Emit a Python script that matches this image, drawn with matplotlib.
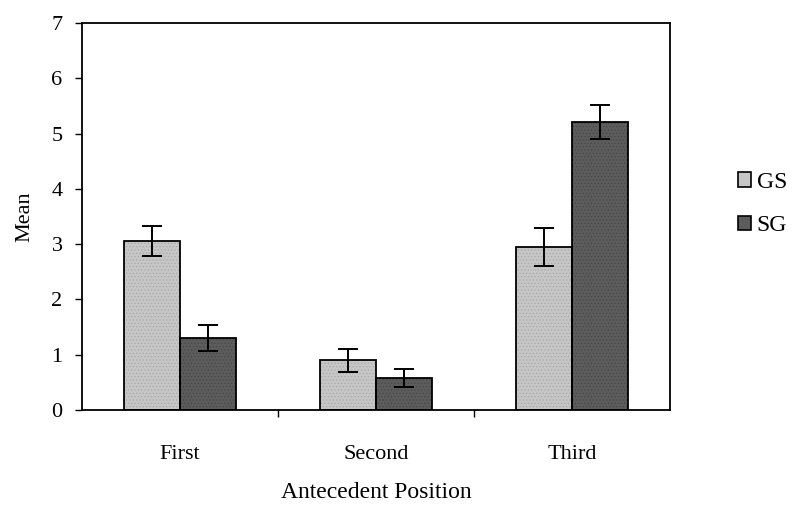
import numpy as np
import matplotlib
matplotlib.use('Agg')
import matplotlib.pyplot as plt

categories = ['First', 'Second', 'Third']
gs_mean = [3.06, 0.90, 2.95]
gs_err = [0.27, 0.21, 0.34]
sg_mean = [1.30, 0.58, 5.21]
sg_err = [0.24, 0.17, 0.31]

plt.rcParams['font.family'] = ['Liberation Serif', 'DejaVu Serif']
plt.rcParams['hatch.linewidth'] = 0.5

fig = plt.figure(figsize=(7.94, 5.05), dpi=100)
ax = fig.add_axes([0.1033, 0.188, 0.7405, 0.7665])

x = np.arange(len(categories))
w = 0.286

# fill with faint dot texture, then black outline on top
ax.bar(x - w / 2, gs_mean, w, color='#c6c6c6', edgecolor='#a8a8a8', linewidth=0,
       hatch='.....', zorder=2)
ax.bar(x + w / 2, sg_mean, w, color='#5c5c5c', edgecolor='#474747', linewidth=0,
       hatch='.....', zorder=2)
ax.bar(x - w / 2, gs_mean, w, fill=False, edgecolor='black', linewidth=1.3, zorder=2.5)
ax.bar(x + w / 2, sg_mean, w, fill=False, edgecolor='black', linewidth=1.3, zorder=2.5)
ax.errorbar(x - w / 2, gs_mean, yerr=gs_err, fmt='none', ecolor='black',
            elinewidth=1.4, capsize=7, capthick=1.4, zorder=3)
ax.errorbar(x + w / 2, sg_mean, yerr=sg_err, fmt='none', ecolor='black',
            elinewidth=1.4, capsize=7, capthick=1.4, zorder=3)

ax.set_xlim(-0.5, 2.5)
ax.set_ylim(0, 7)
ax.set_yticks(range(0, 8))
ax.set_xticks(x)
ax.set_xticklabels(categories, fontsize=16)
ax.set_xticks([0.5, 1.5], minor=True)
ax.tick_params(axis='x', which='major', length=0, pad=25)
ax.tick_params(axis='x', which='minor', length=5, width=1)
ax.tick_params(axis='y', length=5, width=1, labelsize=16, pad=9)

for s in ax.spines.values():
    s.set_linewidth(1.3)

ax.set_ylabel('Mean', fontsize=16, labelpad=12)
ax.set_xlabel('Antecedent Position', fontsize=17, labelpad=13)

gs_h = plt.Rectangle((0, 0), 1, 1, facecolor='#c6c6c6', edgecolor='black', linewidth=1.2)
sg_h = plt.Rectangle((0, 0), 1, 1, facecolor='#5c5c5c', edgecolor='black', linewidth=1.2)
leg = ax.legend([gs_h, sg_h], ['GS', 'SG'], loc='center left',
                bbox_to_anchor=(1.095, 0.532), frameon=False, fontsize=17,
                handlelength=0.55, handleheight=0.55, handletextpad=0.25,
                labelspacing=0.95, borderpad=0)

fig.savefig('out.png', dpi=100)
